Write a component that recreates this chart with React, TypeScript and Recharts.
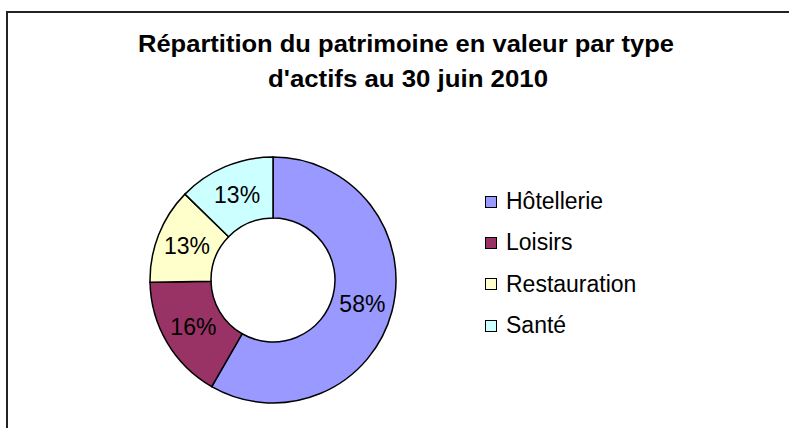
import { PieChart, Pie, Cell, Legend } from 'recharts'

const categories = ['Hôtellerie', 'Loisirs', 'Restauration', 'Santé']
const shares = [58.3, 16.4, 12.6, 12.7]
const colors = ['#9999FF', '#993366', '#FFFFCC', '#CCFFFF']

const data = categories.map((name, i) => ({ name, value: shares[i] }))

const FONT = '"Liberation Sans", Arial, sans-serif'
const RAD = Math.PI / 180

function renderLabel(props: any) {
  const { cx, cy, midAngle, innerRadius, outerRadius, percent } = props
  const r = (innerRadius + outerRadius) / 2
  const x = cx + r * Math.cos(-midAngle * RAD)
  const y = cy + r * Math.sin(-midAngle * RAD)
  return (
    <text
      x={x}
      y={y}
      fill="#000"
      textAnchor="middle"
      dominantBaseline="central"
      fontSize={23}
      fontFamily={FONT}
    >
      {Math.round(percent * 100)}%
    </text>
  )
}

function renderLegend() {
  return (
    <div style={{ fontFamily: FONT, fontSize: 23, color: '#000' }}>
      {categories.map((c, i) => (
        <div key={c} style={{ display: 'flex', alignItems: 'center', height: 41.3 }}>
          <span
            style={{
              display: 'inline-block',
              width: 10,
              height: 10,
              background: colors[i],
              border: '1.5px solid #000',
              marginRight: 9,
            }}
          />
          <span>{c}</span>
        </div>
      ))}
    </div>
  )
}

export default function App() {
  return (
    <div style={{ position: 'absolute', left: 0, top: 0, width: 789, height: 428, background: '#fff' }}>
      <PieChart width={789} height={428}>
        <Pie
          data={data}
          dataKey="value"
          nameKey="name"
          cx={268}
          cy={275}
          innerRadius={62}
          outerRadius={123}
          startAngle={90}
          endAngle={-270}
          stroke="#000"
          strokeWidth={1.5}
          label={renderLabel}
          labelLine={false}
          isAnimationActive={false}
        >
          {data.map((d, i) => (
            <Cell key={d.name} fill={colors[i]} />
          ))}
        </Pie>
        <Legend
          layout="vertical"
          content={renderLegend}
          wrapperStyle={{ left: 485, top: 181, width: 220 }}
        />
      </PieChart>
      <svg
        width={789}
        height={428}
        style={{ position: 'absolute', left: 0, top: 0, pointerEvents: 'none' }}
      >
        <polyline points="7,428 7,12 789,12" fill="none" stroke="#222" strokeWidth={2} />
        <text
          x={406}
          y={52}
          textAnchor="middle"
          fontFamily={FONT}
          fontWeight="bold"
          fontSize={23}
          textLength={536}
          lengthAdjust="spacingAndGlyphs"
        >
          Répartition du patrimoine en valeur par type
        </text>
        <text
          x={408}
          y={87}
          textAnchor="middle"
          fontFamily={FONT}
          fontWeight="bold"
          fontSize={23}
          textLength={280}
          lengthAdjust="spacingAndGlyphs"
        >
          d'actifs au 30 juin 2010
        </text>
      </svg>
    </div>
  )
}
